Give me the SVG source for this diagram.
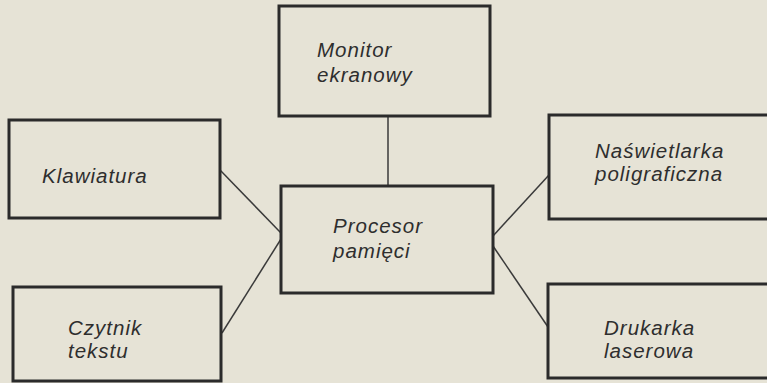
<svg xmlns="http://www.w3.org/2000/svg" width="767" height="383" viewBox="0 0 767 383">
  <style>
    .box { fill: #e6e3d6; stroke: #2b2b2b; stroke-width: 3; }
    .link { stroke: #3a3a3a; stroke-width: 1.5; fill: none; }
    .label { font-family: "Liberation Sans", Arial, sans-serif; font-style: italic; font-size: 20.5px; letter-spacing: 1px; fill: #2e2e2e; }
  </style>
  <rect width="767" height="383" fill="#e6e3d6"/>

  <!-- connectors -->
  <g id="connectors">
    <line class="link" x1="388" y1="116" x2="388" y2="186"/>
    <line class="link" x1="220" y1="170" x2="281" y2="233"/>
    <line class="link" x1="222" y1="333" x2="281" y2="239"/>
    <line class="link" x1="493" y1="236" x2="549" y2="175"/>
    <line class="link" x1="493" y1="246" x2="548" y2="327"/>
  </g>

  <g id="monitor">
    <rect class="box" x="279" y="6" width="211" height="110"/>
    <text class="label" x="317" y="57">Monitor</text>
    <text class="label" x="317" y="82">ekranowy</text>
  </g>

  <g id="klawiatura">
    <rect class="box" x="9" y="120" width="211" height="98"/>
    <text class="label" x="42" y="183">Klawiatura</text>
  </g>

  <g id="procesor">
    <rect class="box" x="281" y="186" width="212" height="107"/>
    <text class="label" x="333" y="233">Procesor</text>
    <text class="label" x="333" y="258">pamięci</text>
  </g>

  <g id="czytnik">
    <rect class="box" x="13" y="287" width="208" height="94"/>
    <text class="label" x="68" y="335">Czytnik</text>
    <text class="label" x="68" y="358">tekstu</text>
  </g>

  <g id="naswietlarka">
    <rect class="box" x="549" y="115" width="240" height="104"/>
    <text class="label" x="595" y="158">Naświetlarka</text>
    <text class="label" x="595" y="181">poligraficzna</text>
  </g>

  <g id="drukarka">
    <rect class="box" x="548" y="284" width="240" height="94"/>
    <text class="label" x="604" y="335">Drukarka</text>
    <text class="label" x="604" y="358">laserowa</text>
  </g>
</svg>
